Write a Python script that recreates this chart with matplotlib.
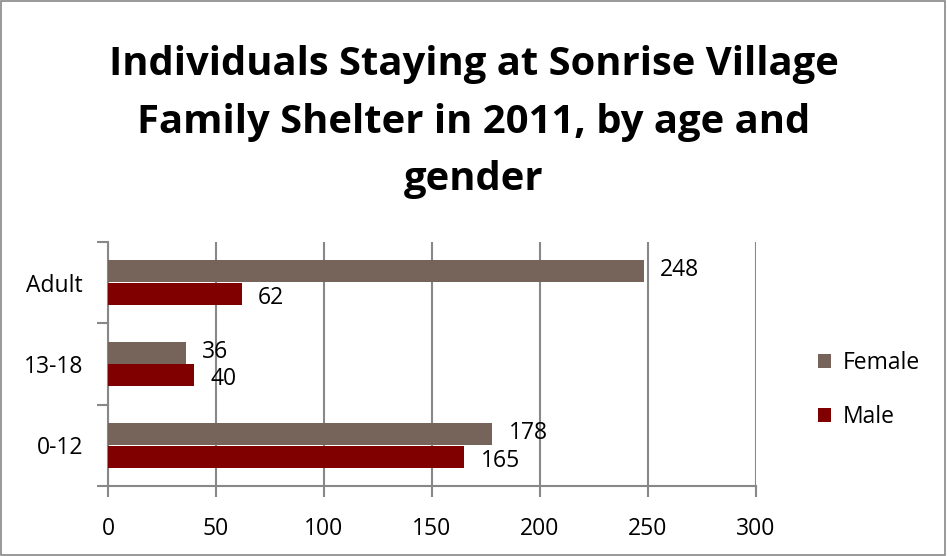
import matplotlib
matplotlib.use('Agg')
from matplotlib import pyplot as plt
from matplotlib.patches import Rectangle
import numpy as np

plt.rcParams['font.family'] = ['Open Sans', 'DejaVu Sans']

# data
ages = ['0-12', '13-18', 'Adult']
female = [178, 36, 248]
male = [165, 40, 62]
xticks = [0, 50, 100, 150, 200, 250, 300]

c_female = '#76635A'
c_male = '#800000'
c_grid = '#888888'

fig = plt.figure(figsize=(9.47, 5.56), dpi=100)
fig.patch.set_facecolor('white')
# outer border
fig.add_artist(Rectangle((0.001, 0.001), 0.997, 0.997, transform=fig.transFigure,
                         fill=False, edgecolor=c_grid, linewidth=1.2))

ax = fig.add_axes([108/947, 1-486/556, (756-108)/947, (486-242)/556])

y = np.arange(len(ages))
h = 0.27
bf = ax.barh(y + 0.14, female, height=h, color=c_female, label='Female', zorder=3)
bm = ax.barh(y - 0.14, male, height=h, color=c_male, label='Male', zorder=3)

for yy, v in zip(y, female):
    ax.text(v + 7.5, yy + 0.15, str(v), va='center', ha='left', fontsize=16.5, zorder=4)
for yy, v in zip(y, male):
    ax.text(v + 7.5, yy - 0.19, str(v), va='center', ha='left', fontsize=16.5, zorder=4)

ax.set_xlim(0, 300)
ax.set_ylim(-0.5, 2.5)
ax.set_xticks(xticks)
ax.set_xticklabels([str(t) for t in xticks], fontsize=16.5)
ax.set_yticks(y)
ax.set_yticklabels(ages, fontsize=16.5)
ax.set_yticks([-0.5, 0.5, 1.5, 2.5], minor=True)
ax.tick_params(axis='y', which='major', length=0, pad=18)
ax.tick_params(axis='y', which='minor', length=8, width=1.5, color=c_grid)
ax.tick_params(axis='x', which='major', length=8, width=1.5, color=c_grid, pad=14)

ax.grid(axis='x', color=c_grid, linewidth=1.5, zorder=0)
for s in ['top', 'right']:
    ax.spines[s].set_visible(False)
for s in ['left', 'bottom']:
    ax.spines[s].set_color(c_grid)
    ax.spines[s].set_linewidth(1.5)

fig.text(0.5, 1-122/556, 'Individuals Staying at Sonrise Village\nFamily Shelter in 2011, by age and\ngender',
         ha='center', va='center', fontsize=28.8, fontweight='bold', linespacing=1.62)

ax.legend(handles=[bf, bm], loc='center left', bbox_to_anchor=(797/947, 1-390/556),
          bbox_transform=fig.transFigure, frameon=False, fontsize=16.5,
          handlelength=0.6, handleheight=0.6, labelspacing=1.3, handletextpad=0.5)

fig.savefig('out.png', dpi=100)
